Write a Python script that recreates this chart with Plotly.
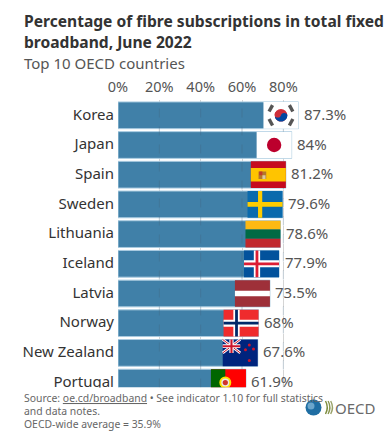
import math
import plotly.graph_objects as go

countries = ["Korea", "Japan", "Spain", "Sweden", "Lithuania", "Iceland", "Latvia", "Norway", "New Zealand", "Portugal"]
values = [87.3, 84, 81.2, 79.6, 78.6, 77.9, 73.5, 68, 67.6, 61.9]
labels = ["87.3%", "84%", "81.2%", "79.6%", "78.6%", "77.9%", "73.5%", "68%", "67.6%", "61.9%"]
tick_vals = [0, 20, 40, 60, 80]
tick_text = ["0%", "20%", "40%", "60%", "80%"]

W, H = 388, 448
LEFT, TOP, BOTTOM = 118, 100, 387.5
PX_PER_UNIT = 2.067
XMAX = (W - LEFT) / PX_PER_UNIT
ROW_PX = 29.7
YMIN, YMAX = -(115.3 - TOP) / ROW_PX, (BOTTOM - 115.3) / ROW_PX
BAR_W = 0.9
FLAG_PX = 35
FONT = "Noto Sans"

shapes = []

# Gridlines show faintly through the bars
for tv in tick_vals[1:]:
    shapes.append(dict(type="line", xref="x", yref="paper", x0=tv, x1=tv, y0=1 - BOTTOM / H, y1=1 - TOP / H,
                       line=dict(color="rgba(70,100,125,0.35)", width=1, dash="dash"), layer="above"))


class Flag:
    """Draws in flag-relative coordinates: u in 0..1 left to right, v in 0..1 top to bottom."""

    def __init__(self, row):
        self.row = row
        self.x1 = values[row]
        self.w = FLAG_PX / PX_PER_UNIT
        self.x0 = self.x1 - self.w
        self.top = row - BAR_W / 2

    def X(self, u):
        return self.x0 + u * self.w

    def Y(self, v):
        return self.top + v * BAR_W

    def rect(self, u0, v0, u1, v1, color):
        shapes.append(dict(type="rect", xref="x", yref="y", x0=self.X(u0), x1=self.X(u1),
                           y0=self.Y(v0), y1=self.Y(v1), fillcolor=color, line_width=0, layer="above"))

    def line(self, u0, v0, u1, v1, color, width):
        shapes.append(dict(type="line", xref="x", yref="y", x0=self.X(u0), x1=self.X(u1),
                           y0=self.Y(v0), y1=self.Y(v1), line=dict(color=color, width=width), layer="above"))

    def circle(self, u, v, r_px, color):
        dx = r_px / PX_PER_UNIT
        dy = r_px / ROW_PX
        shapes.append(dict(type="circle", xref="x", yref="y", x0=self.X(u) - dx, x1=self.X(u) + dx,
                           y0=self.Y(v) - dy, y1=self.Y(v) + dy, fillcolor=color, line_width=0, layer="above"))

    def half_disc(self, u, v, r_px, color, a0, a1):
        pts = []
        for i in range(25):
            a = math.radians(a0 + (a1 - a0) * i / 24)
            pts.append((self.X(u) + r_px * math.cos(a) / PX_PER_UNIT, self.Y(v) + r_px * math.sin(a) / ROW_PX))
        path = "M " + " L ".join(f"{px:.3f},{py:.3f}" for px, py in pts) + " Z"
        shapes.append(dict(type="path", xref="x", yref="y", path=path, fillcolor=color, line_width=0, layer="above"))


# Korea
f = Flag(0)
f.rect(0, 0, 1, 1, "#ffffff")
f.circle(.5, .5, 6.3, "#cd2e3a")
f.half_disc(.5, .5, 6.3, "#0047a0", -15, 165)
f.circle(.41, .47, 3.1, "#cd2e3a")
f.circle(.59, .53, 3.1, "#0047a0")
for (cu, cv, a) in [(.21, .24, 1), (.79, .24, -1), (.21, .76, -1), (.79, .76, 1)]:
    f.line(cu - .05, cv + a * .12, cu + .05, cv - a * .12, "#555555", 3.4)

# Japan
f = Flag(1)
f.rect(0, 0, 1, 1, "#ffffff")
f.circle(.5, .5, 7.2, "#bc002d")

# Spain
f = Flag(2)
f.rect(0, 0, 1, 1, "#c60b1e")
f.rect(0, .25, 1, .75, "#ffc400")
f.rect(.22, .38, .44, .66, "#b5762a")
f.rect(.24, .38, .33, .52, "#c0392b")
f.rect(.33, .52, .42, .66, "#d9c9a0")

# Sweden
f = Flag(3)
f.rect(0, 0, 1, 1, "#0a6aad")
f.rect(0, .41, 1, .59, "#fecc00")
f.rect(.3, 0, .42, 1, "#fecc00")

# Lithuania
f = Flag(4)
f.rect(0, 0, 1, .33, "#fdb913")
f.rect(0, .33, 1, .67, "#006a44")
f.rect(0, .67, 1, 1, "#c1272d")

# Iceland
f = Flag(5)
f.rect(0, 0, 1, 1, "#02529c")
f.rect(0, .37, 1, .63, "#ffffff")
f.rect(.28, 0, .46, 1, "#ffffff")
f.rect(0, .45, 1, .55, "#dc1e35")
f.rect(.33, 0, .41, 1, "#dc1e35")

# Latvia
f = Flag(6)
f.rect(0, 0, 1, 1, "#9e3039")
f.rect(0, .4, 1, .6, "#ffffff")

# Norway
f = Flag(7)
f.rect(0, 0, 1, 1, "#ef2b2d")
f.rect(0, .37, 1, .63, "#ffffff")
f.rect(.28, 0, .46, 1, "#ffffff")
f.rect(0, .45, 1, .55, "#002868")
f.rect(.33, 0, .41, 1, "#002868")

# New Zealand
f = Flag(8)
f.rect(0, 0, 1, 1, "#00247d")
f.line(0, 0, .5, .5, "#ffffff", 2.6)
f.line(.5, 0, 0, .5, "#ffffff", 2.6)
f.line(0, 0, .5, .5, "#cc142b", 1)
f.line(.5, 0, 0, .5, "#cc142b", 1)
f.rect(0, .18, .5, .32, "#ffffff")
f.rect(.19, 0, .31, .5, "#ffffff")
f.rect(0, .21, .5, .29, "#cc142b")
f.rect(.22, 0, .28, .5, "#cc142b")
for (u, v) in [(.76, .2), (.65, .38), (.88, .35), (.76, .78)]:
    f.circle(u, v, 1.5, "#cc142b")

# Portugal
f = Flag(9)
f.rect(0, 0, 1, 1, "#ff0000")
f.rect(0, 0, .41, 1, "#006600")
f.circle(.41, .5, 6, "#ffe000")
f.circle(.41, .5, 4, "#e8e8e8")
f.circle(.41, .5, 2.6, "#d0342c")

# Blank band behind the footer, which crops the last row
shapes.append(dict(type="rect", xref="paper", yref="paper", x0=0, x1=1, y0=0, y1=1 - BOTTOM / H,
                   fillcolor="#ffffff", line_width=0, layer="above"))

# OECD logo
LX, LY, LR = 313.5 / W, 1 - 407.5 / H, 8
shapes.append(dict(type="circle", xref="paper", yref="paper", x0=LX - LR / W, x1=LX + LR / W,
                   y0=LY - LR / H, y1=LY + LR / H, fillcolor="#1f6ea3", line_width=0, layer="above"))
shapes.append(dict(type="circle", xref="paper", yref="paper", x0=LX - 6 / W, x1=LX + 1 / W,
                   y0=LY - 2 / H, y1=LY + 5 / H, fillcolor="#6ba6cc", line_width=0, layer="above"))
for i, col in enumerate(["#7d8c3c", "#8a9650", "#9aa36a"]):
    cx = 325.5 + i * 2.6
    path = f"M {cx / W:.5f},{1 - 401 / H:.5f} Q {(cx + 3.6) / W:.5f},{1 - 407.5 / H:.5f} {cx / W:.5f},{1 - 414 / H:.5f}"
    shapes.append(dict(type="path", xref="paper", yref="paper", path=path, line=dict(color=col, width=1.4), layer="above"))


def text(px, py, s, size, color, anchor="left"):
    return dict(xref="paper", yref="paper", x=px / W, y=1 - py / H, text=s, showarrow=False, xanchor=anchor,
                yanchor="middle", align="left", font=dict(family=FONT, size=size, color=color))


annotations = [
    text(22, 21.5, "<b>Percentage of fibre subscriptions in total fixed</b>", 15.6, "#333333"),
    text(22, 42.5, "<b>broadband, June 2022</b>", 15.6, "#333333"),
    text(22, 63.5, "Top 10 OECD countries", 15, "#555555"),
    text(22, 397.5, "Source: <u>oe.cd/broadband</u> • See indicator 1.10 for full statistics", 10.4, "#666666"),
    text(22, 410.5, "and data notes.", 10.4, "#666666"),
    text(22, 424, "OECD-wide average = 35.9%", 10.4, "#666666"),
    text(333, 407.5, "OECD", 15, "#6a6a6a"),
]
# Value labels sit beside each bar
for c, v, lab in zip(countries, values, labels):
    annotations.append(dict(xref="x", yref="y", x=v, y=c, text=lab, showarrow=False, xanchor="left", yanchor="middle",
                            xshift=3.5, yshift=1.5, font=dict(family=FONT, size=15, color="#555555")))

fig = go.Figure(go.Bar(
    x=values, y=countries, orientation="h", width=BAR_W,
    marker=dict(color="#4080a8", line=dict(color="#a9cbe0", width=1)),
    hoverinfo="skip",
))
fig.update_layout(
    template="none",
    width=W, height=H, margin=dict(l=0, r=0, t=0, b=0, pad=0), autosize=False,
    paper_bgcolor="#ffffff", plot_bgcolor="#ffffff", showlegend=False,
    shapes=shapes, annotations=annotations, font=dict(family=FONT),
    xaxis=dict(domain=[LEFT / W, 1], range=[0, XMAX], side="top", tickvals=tick_vals, ticktext=tick_text,
               showline=False, zeroline=False, showgrid=True, gridcolor="#d5d5d5", griddash="dash", gridwidth=1,
               tickfont=dict(family=FONT, size=14.5, color="#555555"), ticks="", anchor="y", automargin=False,
               ticklabelstandoff=4),
    yaxis=dict(domain=[1 - BOTTOM / H, 1 - TOP / H], range=[YMAX, YMIN], type="category",
               categoryorder="array", categoryarray=countries, showgrid=False, zeroline=False, showline=False,
               tickfont=dict(family=FONT, size=15, color="#333333"), ticks="", anchor="x", automargin=False,
               ticklabelstandoff=3, ticklabelshift=1),
)
fig.write_html("out.html", config={"displayModeBar": False}, post_script="document.body.style.margin='0';")
